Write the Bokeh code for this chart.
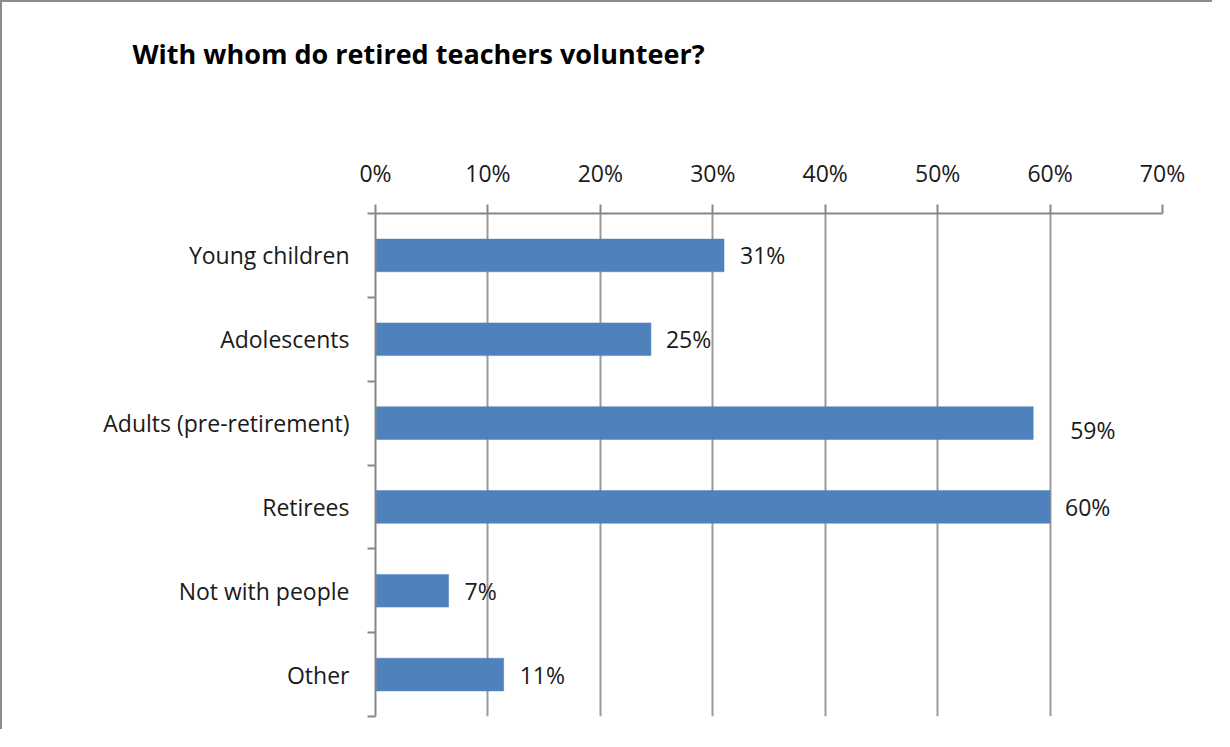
from bokeh.plotting import figure
from bokeh.models import FixedTicker, PrintfTickFormatter, Range1d, ColumnDataSource, Title
from bokeh.core.properties import value
from bokeh.embed import file_html
from bokeh.resources import INLINE

# ---- data ----
categories = ["Young children", "Adolescents", "Adults (pre-retirement)",
              "Retirees", "Not with people", "Other"]
values = [31.0, 24.5, 58.5, 60.0, 6.5, 11.4]
value_labels = ["31%", "25%", "59%", "60%", "7%", "11%"]
x_ticks = [0, 10, 20, 30, 40, 50, 60, 70]
title_text = "With whom do retired teachers volunteer?"

# ---- style ----
label_dx = [16, 15, 37, 15, 16, 16]
label_dy = [0, 0, 7, 0, 0, 0]
FONT = "Open Sans"
BAR = "#4f81bd"
AXIS = "#878787"
GRID = "#9a9a9a"
TEXT = "#1a1a1a"

n = len(categories)
pos = list(range(1, n + 1))

p = figure(width=1212, height=729, output_backend="svg", toolbar_location=None,
           x_range=Range1d(0, 70), y_range=Range1d(n + 0.5, 0.5),
           x_axis_location="above", min_border_left=373, min_border_right=52,
           min_border_top=211, min_border_bottom=15)
p.styles = {"border-top": "2px solid #8c8c8c", "border-left": "2px solid #8c8c8c"}
p.outline_line_color = None
p.background_fill_color = "white"
p.border_fill_color = "white"

src = ColumnDataSource(dict(y=pos, v=values, lab=value_labels, dx=label_dx, dy=label_dy))
p.hbar(y="y", right="v", left=0, height=0.39, source=src, fill_color=BAR, line_color=BAR,
       line_width=0.5)
p.text(x="v", y="y", text="lab", source=src, x_offset="dx", y_offset="dy",
       text_font=value(FONT), text_font_size="23px", text_color=TEXT,
       text_baseline="middle", text_align="left")

# x axis (top)
xa = p.xaxis[0]
xa.ticker = FixedTicker(ticks=x_ticks)
xa.formatter = PrintfTickFormatter(format="%d%%")
xa.axis_line_color = AXIS
xa.axis_line_width = 2
xa.major_tick_line_color = AXIS
xa.major_tick_line_width = 2
xa.major_tick_out = 9
xa.major_tick_in = 0
xa.minor_tick_line_color = None
xa.major_label_text_font = FONT
xa.major_label_text_font_size = "23px"
xa.major_label_text_color = TEXT
xa.major_label_standoff = 16
# invisible axis label used as vertical spacing between axis and title
xa.axis_label = " "
xa.axis_label_text_font_size = "10px"
xa.axis_label_text_alpha = 0
xa.axis_label_standoff = 68

# y axis (left) with ticks between categories
ya = p.yaxis[0]
ya.ticker = FixedTicker(ticks=pos, minor_ticks=[i + 0.5 for i in range(0, n + 1)])
ya.major_label_overrides = {k: c for k, c in zip(pos, categories)}
ya.axis_line_color = AXIS
ya.axis_line_width = 2
ya.major_tick_line_color = None
ya.major_tick_out = 0
ya.major_tick_in = 0
ya.minor_tick_line_color = AXIS
ya.minor_tick_line_width = 2
ya.minor_tick_out = 8
ya.minor_tick_in = 0
ya.major_label_text_font = FONT
ya.major_label_text_font_size = "23px"
ya.major_label_text_color = TEXT
ya.major_label_standoff = 18

p.xgrid.ticker = FixedTicker(ticks=x_ticks)
p.xgrid.grid_line_color = GRID
p.xgrid.grid_line_width = 2
p.ygrid.grid_line_color = None

t = Title(text=title_text, align="left", offset=-243, standoff=0,
          text_font=FONT, text_font_size="27px", text_font_style="bold",
          text_color="black")
p.add_layout(t, "above")

open("out.html", "w").write(file_html(p, INLINE))
